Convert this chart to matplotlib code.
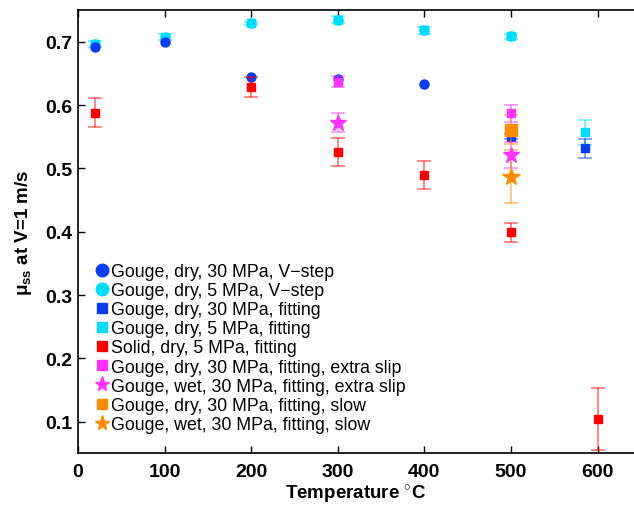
import matplotlib
matplotlib.use("Agg")
import matplotlib.pyplot as plt
from matplotlib.lines import Line2D

plt.rcParams['font.family'] = ['Liberation Sans', 'DejaVu Sans']
plt.rcParams['mathtext.fontset'] = 'custom'
plt.rcParams['mathtext.rm'] = 'Liberation Sans'
plt.rcParams['mathtext.it'] = 'Liberation Sans:italic'
plt.rcParams['mathtext.bf'] = 'Liberation Sans:bold'

# ---- data ----
t_vstep30 = [20, 100, 200, 300, 400]
mu_vstep30 = [0.691, 0.700, 0.644, 0.641, 0.634]

t_vstep5 = [20, 100, 200, 300, 400, 500]
mu_vstep5 = [0.697, 0.708, 0.729, 0.735, 0.718, 0.709]

t_fit30 = [500, 585]
mu_fit30 = [0.550, 0.532]
err_fit30 = [0.004, 0.015]

t_fit5 = [20, 100, 200, 300, 400, 500, 585]
mu_fit5 = [0.697, 0.708, 0.729, 0.735, 0.718, 0.709, 0.557]
err_fit5 = [0.005, 0.005, 0.003, 0.005, 0.005, 0.004, 0.020]

t_solid = [20, 200, 300, 400, 500, 600]
mu_solid = [0.588, 0.629, 0.526, 0.489, 0.399, 0.105]
err_solid = [0.023, 0.016, 0.022, 0.022, 0.015, 0.049]

t_extra_dry = [300, 500]
mu_extra_dry = [0.637, 0.587]
err_extra_dry = [0.009, 0.013]

t_extra_wet = [300, 500]
mu_extra_wet = [0.572, 0.521]
err_extra_wet = [0.015, 0.021]

t_slow_dry = [500]
mu_slow_dry = [0.561]
err_slow_dry = [0.023]

t_slow_wet = [500]
mu_slow_wet = [0.487]
err_slow_wet = [0.042]

labels = [
    "Gouge, dry, 30 MPa, V\u2212step",
    "Gouge, dry, 5 MPa, V\u2212step",
    "Gouge, dry, 30 MPa, fitting",
    "Gouge, dry, 5 MPa, fitting",
    "Solid, dry, 5 MPa, fitting",
    "Gouge, dry, 30 MPa, fitting, extra slip",
    "Gouge, wet, 30 MPa, fitting, extra slip",
    "Gouge, dry, 30 MPa, fitting, slow",
    "Gouge, wet, 30 MPa, fitting, slow",
]

BLUE = '#0a3cf0'
CYAN = '#00dcff'
RED = '#ff0000'
MAG = '#ff33ff'
ORANGE = '#ff8c00'

fig = plt.figure(figsize=(6.34, 5.06), dpi=100)
ax = fig.add_axes([0.123, 0.102, 0.877, 0.876])


def eb(x, y, e, color, marker, ms, z):
    ax.errorbar(x, y, yerr=e, fmt='none', ecolor=color, alpha=0.55,
                elinewidth=1.2, capsize=5, capthick=1.2, zorder=z)
    ax.plot(x, y, linestyle='none', marker=marker, ms=ms,
            color=color, mec=color, zorder=z + 0.5)


eb(t_fit5, mu_fit5, err_fit5, CYAN, 's', 5.5, 2)
eb(t_fit30, mu_fit30, err_fit30, BLUE, 's', 5.5, 2.2)
ax.plot(t_vstep5, mu_vstep5, linestyle='none', marker='o', ms=6.5, color=CYAN, zorder=3)
ax.plot(t_vstep30, mu_vstep30, linestyle='none', marker='o', ms=6.5, color=BLUE, zorder=3.2)
eb(t_solid, mu_solid, err_solid, RED, 's', 5.5, 4)
eb(t_extra_dry, mu_extra_dry, err_extra_dry, MAG, 's', 5.5, 4.2)
eb(t_extra_wet, mu_extra_wet, err_extra_wet, MAG, '*', 12, 4.4)
eb(t_slow_dry, mu_slow_dry, err_slow_dry, ORANGE, 's', 9, 4.6)
eb(t_slow_wet, mu_slow_wet, err_slow_wet, ORANGE, '*', 13, 4.8)

ax.set_xlim(0, 642)
ax.set_ylim(0.05, 0.75)
ax.set_xticks([0, 100, 200, 300, 400, 500, 600])
ax.set_yticks([0.1, 0.2, 0.3, 0.4, 0.5, 0.6, 0.7])
ax.set_yticklabels(['0.1', '0.2', '0.3', '0.4', '0.5', '0.6', '0.7'])
ax.tick_params(direction='in', length=5, width=1, labelsize=14, top=True, right=False)
ax.tick_params(axis='y', pad=4)
ax.tick_params(axis='x', pad=7)
for lab in ax.get_xticklabels() + ax.get_yticklabels():
    lab.set_fontweight('bold')
ax.spines['right'].set_visible(False)
for s in ['left', 'top', 'bottom']:
    ax.spines[s].set_linewidth(1.2)

ax.set_xlabel(r'Temperature $^{\circ}$C', fontsize=13.5, fontweight='bold', labelpad=2)
ax.set_ylabel(r'$\mathbf{\mu_{ss}}$ at V=1 m/s', fontsize=13.5, fontweight='bold', labelpad=8)

# legend proxies
leg_specs = [('o', BLUE, 9), ('o', CYAN, 9), ('s', BLUE, 7), ('s', CYAN, 7), ('s', RED, 7),
             ('s', MAG, 7), ('*', MAG, 11), ('s', ORANGE, 7), ('*', ORANGE, 11)]
proxies = [Line2D([], [], linestyle='none', marker=m, color=c, mec=c, ms=s)
           for m, c, s in leg_specs]
ax.legend(proxies, labels, loc='lower left', bbox_to_anchor=(0.013, 0.02), frameon=False,
          fontsize=12.8, handlelength=0.6, handletextpad=0.2, labelspacing=0.12,
          borderaxespad=0.35, borderpad=0.3, numpoints=1)

fig.savefig('out.png', dpi=100)
